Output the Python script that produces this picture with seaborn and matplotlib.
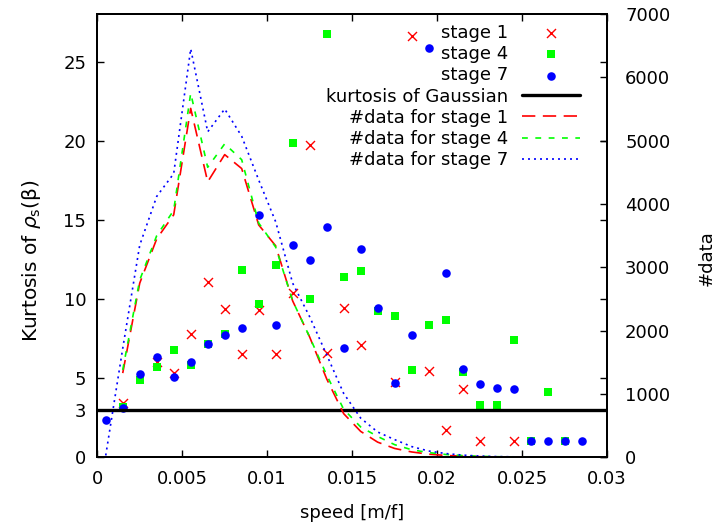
import numpy as np
import pandas as pd
import matplotlib
matplotlib.use("Agg")
import matplotlib.pyplot as plt
import seaborn as sns

nan = np.nan

# bin centres of the speed histogram [m/f]
speed = [0.0005, 0.0015, 0.0025, 0.0035, 0.0045, 0.0055, 0.0065, 0.0075, 0.0085, 0.0095,
         0.0105, 0.0115, 0.0125, 0.0135, 0.0145, 0.0155, 0.0165, 0.0175, 0.0185, 0.0195,
         0.0205, 0.0215, 0.0225, 0.0235, 0.0245, 0.0255, 0.0265, 0.0275, 0.0285, 0.0295]

# kurtosis of rho_s(beta) per speed bin
kurt_stage1 = [nan, 3.41, nan, 6.03, 5.34, 7.82, 11.08, 9.34, 6.50, 9.29,
               6.50, 10.39, 19.72, 6.56, 9.42, 7.07, nan, 4.77, 26.6, 5.46,
               1.72, 4.33, 1.0, nan, 1.0, nan, nan, nan, nan, nan]
kurt_stage4 = [nan, 3.19, 4.88, 5.72, 6.77, 5.82, 7.15, 7.82, 11.86, 9.67,
               12.13, 19.87, 9.97, 26.75, 11.36, 11.80, 9.25, 8.90, 5.51, 8.35,
               8.66, 5.42, 3.28, 3.28, 7.44, 1.0, 4.10, 1.0, nan, nan]
kurt_stage7 = [2.35, 3.13, 5.26, 6.35, 5.09, 6.03, 7.15, 7.72, 8.14, 15.33,
               8.37, 13.41, 12.45, 14.55, 6.92, 13.16, 9.46, 4.67, 7.72, 25.84,
               11.67, 5.57, 4.64, 4.39, 4.33, 1.0, 1.0, 1.0, 1.0, nan]

# number of samples per speed bin
count_stage1 = [nan, 1330, 2750, 3450, 3830, 5510, 4350, 4780, 4560, 3670,
                3340, 2470, 1900, 1240, 690, 410, 240, 140, 85, 50,
                30, 18, 10, 6, 4, 2, 1, 1, 0, 0]
count_stage4 = [nan, 1380, 2800, 3500, 3900, 5750, 4580, 4950, 4700, 3700,
                3320, 2470, 1900, 1300, 760, 480, 330, 200, 120, 75,
                45, 28, 16, 10, 6, 4, 2, 1, 1, 0]
count_stage7 = [30, 1720, 3350, 4120, 4480, 6450, 5140, 5500, 5070, 4380,
                3720, 2750, 2220, 1620, 1010, 620, 400, 280, 170, 100,
                60, 35, 20, 12, 8, 5, 3, 2, 1, 0]

gauss_kurtosis = 3

xticks = [0, 0.005, 0.01, 0.015, 0.02, 0.025, 0.03]
xtick_labels = ["0", "0.005", "0.01", "0.015", "0.02", "0.025", "0.03"]
yticks_left = [0, 3, 5, 10, 15, 20, 25]
yticks_right = [0, 1000, 2000, 3000, 4000, 5000, 6000, 7000]

FS = 13

sns.set_style("ticks")
plt.rcParams["font.family"] = ["DejaVu Sans"]
plt.rcParams["mathtext.fontset"] = "dejavusans"
plt.rcParams["font.size"] = FS
plt.rcParams["axes.linewidth"] = 1.4
for key in ["text.color", "axes.labelcolor", "axes.edgecolor",
            "xtick.color", "ytick.color", "xtick.labelcolor", "ytick.labelcolor"]:
    plt.rcParams[key] = "black"

df = pd.DataFrame({
    "speed": speed,
    "k1": kurt_stage1, "k4": kurt_stage4, "k7": kurt_stage7,
    "n1": count_stage1, "n4": count_stage4, "n7": count_stage7,
})

RED, GREEN, BLUE = "#ff0000", "#00ff00", "#0000ff"

fig = plt.figure(figsize=(7.15, 5.27), dpi=100)
ax = fig.add_axes([0.136, 0.1322, 0.713, 0.8412])
ax2 = ax.twinx()

sns.scatterplot(data=df, x="speed", y="k1", ax=ax, marker="x", color=RED,
                s=42, linewidth=1.0, legend=False, label="stage 1", zorder=3)
sns.scatterplot(data=df, x="speed", y="k4", ax=ax, marker="s", color=GREEN,
                s=30, linewidth=0, legend=False, label="stage 4", zorder=3)
sns.scatterplot(data=df, x="speed", y="k7", ax=ax, marker="o", color=BLUE,
                s=38, linewidth=0, legend=False, label="stage 7", zorder=3)
ax.axhline(gauss_kurtosis, color="black", lw=2.4, label="kurtosis of Gaussian", zorder=4)

sns.lineplot(data=df, x="speed", y="n1", ax=ax2, color=RED, lw=1.2,
             linestyle=(0, (8, 4.5)), errorbar=None, legend=False,
             label="#data for stage 1")
sns.lineplot(data=df, x="speed", y="n4", ax=ax2, color=GREEN, lw=1.2,
             linestyle=(0, (3.5, 4.5)), errorbar=None, legend=False,
             label="#data for stage 4")
sns.lineplot(data=df, x="speed", y="n7", ax=ax2, color=BLUE, lw=1.2,
             linestyle=(0, (1.2, 2.4)), errorbar=None, legend=False,
             label="#data for stage 7")

ax.set_xlim(0, 0.03)
ax.set_ylim(0, 28)
ax2.set_ylim(0, 7000)

ax.set_xticks(xticks)
ax.set_xticklabels(xtick_labels)
ax.set_yticks(yticks_left)
ax.set_yticklabels([str(v) for v in yticks_left])
ax2.set_yticks(yticks_right)
ax2.set_yticklabels([str(v) for v in yticks_right])

ax.tick_params(axis="both", direction="in", length=5, width=1.0,
               top=True, right=True, labelsize=FS, colors="black")
ax.tick_params(axis="x", pad=9)
ax.tick_params(axis="y", pad=8)
ax2.tick_params(axis="y", direction="in", length=5, width=1.0,
                right=True, left=False, labelsize=FS, pad=13, colors="black")
for a in (ax, ax2):
    for sp in a.spines.values():
        sp.set_color("black")

ax.set_xlabel("speed [m/f]", fontsize=FS, labelpad=12)
ax.set_ylabel(r"Kurtosis of $\rho_{\mathrm{s}}$(β)", fontsize=14.5)
ax.yaxis.set_label_coords(-0.106, 0.443)
ax2.set_ylabel("#data", fontsize=FS)
ax2.yaxis.set_label_coords(1.177, 0.45)

h1, l1 = ax.get_legend_handles_labels()
h2, l2 = ax2.get_legend_handles_labels()
ax2.legend(h1 + h2, l1 + l2, loc="upper right", bbox_to_anchor=(0.9465, 0.978),
           frameon=False, markerfirst=False, handlelength=3.2, handletextpad=0.75,
           labelspacing=0.18, borderpad=0, borderaxespad=0, fontsize=FS)

fig.savefig("out.png", dpi=100)
